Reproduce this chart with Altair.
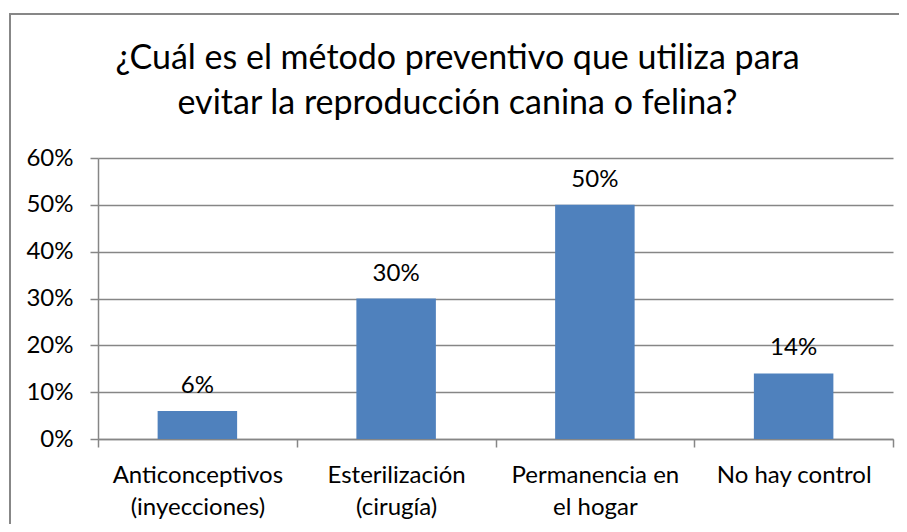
import altair as alt
import pandas as pd

categories = ["Anticonceptivos\n(inyecciones)", "Esterilización\n(cirugía)",
              "Permanencia en\nel hogar", "No hay control"]
values = [0.06, 0.30, 0.50, 0.14]
labels = ["6%", "30%", "50%", "14%"]
y_ticks = [0.0, 0.1, 0.2, 0.3, 0.4, 0.5, 0.6]
title_lines = ["¿Cuál es el método preventivo que utiliza para",
               "evitar la reproducción canina o felina?"]

df = pd.DataFrame({"cat": categories, "val": values, "lab": labels})

FONT = "Lato"
GRAY = "#868686"
BAR = "#4F81BD"

x_enc = alt.X("cat:N", sort=None, title=None,
              scale=alt.Scale(paddingInner=0, paddingOuter=0),
              axis=alt.Axis(labelAngle=0, labelExpr="split(datum.label, '\\n')",
                            labelFont=FONT, labelFontSize=24, labelColor="black",
                            labelLineHeight=32, labelPadding=16, labelBaseline="top",
                            tickBand="extent", tickSize=8, tickColor=GRAY, tickWidth=1.5,
                            domainColor=GRAY, domainWidth=1.5, grid=False))
y_enc = alt.Y("val:Q", title=None,
              scale=alt.Scale(domain=[0, 0.6], nice=False),
              axis=alt.Axis(values=y_ticks, format=".0%", labelFont=FONT,
                            labelFontSize=24, labelColor="black", labelPadding=17,
                            tickSize=8, tickColor=GRAY, tickWidth=1.5,
                            domainColor=GRAY, domainWidth=1.5,
                            grid=True, gridColor=GRAY, gridWidth=1.5))

bars = alt.Chart(df).mark_bar(color=BAR, width=alt.RelativeBandSize(0.4)).encode(
    x=x_enc, y=y_enc)

text = alt.Chart(df).mark_text(font=FONT, fontSize=24, color="black",
                               baseline="alphabetic", dy=-18).encode(
    x=alt.X("cat:N", sort=None), y="val:Q", text="lab:N")

border = alt.Chart(df).mark_rect(fill=None, stroke=GRAY, strokeWidth=1.5).encode(
    x=alt.value(-88), x2=alt.value(900), y=alt.value(-144), y2=alt.value(520))

chart = alt.layer(border, bars, text).properties(
    width=795, height=281,
    padding={"left": 90, "top": 150, "right": 6, "bottom": 85},
    autosize=alt.AutoSizeParams(type="none"),
    title=alt.TitleParams(title_lines, font=FONT, fontSize=34, fontWeight="normal",
                          color="black", anchor="middle", frame="group", dx=-38,
                          lineHeight=45, offset=-108),
).configure_view(stroke=None)

chart.save("out.html", embed_options={"renderer": "svg", "actions": False})
